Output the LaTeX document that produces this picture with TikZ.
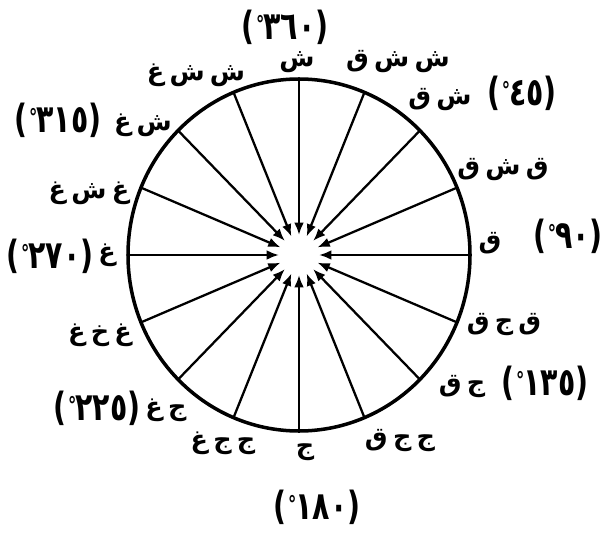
\documentclass[tikz,border=0pt]{standalone}
\usepackage{fontspec}
\usepackage{tikz}
\usetikzlibrary{arrows.meta,calc}
\setmainfont{DejaVu Sans}
\newfontfamily\arabicfont[Script=Arabic]{DejaVu Sans}
\newfontfamily\digitfont{DejaVu Sans}
\TeXXeTstate=1
\newcommand{\dirfont}{\arabicfont\bfseries\fontsize{14.5}{18}\selectfont\spaceskip 3pt\relax}
\newcommand{\dg}{\kern1pt\raisebox{3pt}{\fontsize{10}{10}\selectfont °}\kern-0.5pt}
\newcommand{\degtext}[1]{\scalebox{0.95}[1.3]{(\dg#1)}}

\begin{document}
\begin{tikzpicture}[x=0.02cm,y=-0.02cm,
    rim/.style={line width=2pt},
    spoke/.style={line width=1.3pt,-{Latex[length=7pt,width=5.5pt]}},
    dir/.style={font=\dirfont,inner sep=0pt},
    deg/.style={font=\digitfont\bfseries\fontsize{17}{20}\selectfont,inner sep=0pt}]
  \useasboundingbox (0,0) rectangle (605,537);
  \coordinate (c) at (299,255);
  \draw[rim] (c) circle[x radius=171,y radius=176];
  \foreach \i in {0,...,15}{
    \coordinate (rim\i) at ($(c)+({171*cos(22.5*\i-90)},{176*sin(22.5*\i-90)})$);
    \coordinate (hub\i) at ($(c)+(22.5*\i-90:20)$);
    \draw[spoke] (rim\i) -- (hub\i);
  }
  \node[dir] (n) at (297,62) {\beginR ش\endR};
  \node[dir] (nne) at (398,62) {\beginR ش ش ق\endR};
  \node[dir] (ne) at (440,100) {\beginR ش ق\endR};
  \node[dir] (ene) at (503,170) {\beginR ق ش ق\endR};
  \node[dir] (e) at (490,243) {\beginR ق\endR};
  \node[dir] (ese) at (504,325) {\beginR ق ج ق\endR};
  \node[dir] (se) at (462,387) {\beginR ج ق\endR};
  \node[dir] (sse) at (400,441) {\beginR ج ج ق\endR};
  \node[dir] (s) at (305,452) {\beginR ج\endR};
  \node[dir] (ssw) at (223,443) {\beginR ج ج غ\endR};
  \node[dir] (sw) at (166,410) {\beginR ج غ\endR};
  \node[dir] (wsw) at (100,335) {\beginR غ خ غ\endR};
  \node[dir] (w) at (107,255) {\beginR غ\endR};
  \node[dir] (wnw) at (89,193) {\beginR غ ش غ\endR};
  \node[dir] (nw) at (143,125) {\beginR ش غ\endR};
  \node[dir] (nnw) at (196,75) {\beginR ش ش غ\endR};
  \node[deg] (d360) at (285,27) {\degtext{٣٦٠}};
  \node[deg] (d45) at (522,93) {\degtext{٤٥}};
  \node[deg] (d90) at (568,236) {\degtext{٩٠}};
  \node[deg] (d135) at (545,383) {\degtext{١٣٥}};
  \node[deg] (d180) at (317,507) {\degtext{١٨٠}};
  \node[deg] (d225) at (97,408) {\degtext{٢٢٥}};
  \node[deg] (d270) at (50,256) {\degtext{٢٧٠}};
  \node[deg] (d315) at (58,120) {\degtext{٣١٥}};
\end{tikzpicture}
\end{document}
